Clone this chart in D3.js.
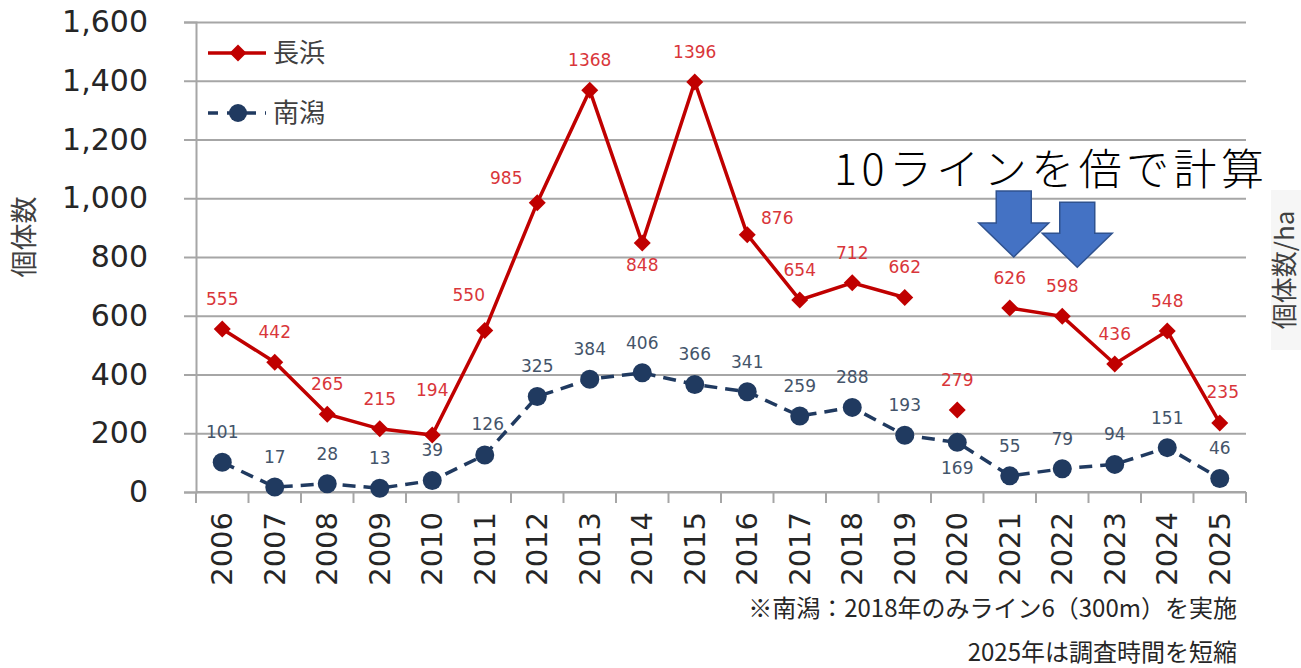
<!DOCTYPE html>
<html>
<head>
<meta charset="utf-8">
<script src="https://cdn.jsdelivr.net/npm/d3@7"></script>
<style>
  body { margin: 0; background: #fff; }
  svg { display: block; }
</style>
</head>
<body>
<svg id="chart" width="1301" height="668"></svg>
<script>
const years = ["2006","2007","2008","2009","2010","2011","2012","2013","2014","2015",
               "2016","2017","2018","2019","2020","2021","2022","2023","2024","2025"]
const nagahama = [555,442,265,215,194,550,985,1368,848,1396,876,654,712,662,279,626,598,436,548,235]
const minamigata = [101,17,28,13,39,126,325,384,406,366,341,259,288,193,169,55,79,94,151,46]
// 長浜 2020 は線でつながない
const nagahamaAlone = ["2020"]
const yTicks = [0,200,400,600,800,1000,1200,1400,1600]
const seriesNames = ["長浜","南潟"]
const noteLines = ["※南潟：2018年のみライン6（300m）を実施", "2025年は調査時間を短縮"]
const calloutText = "10ラインを倍で計算"
const calloutYears = ["2021","2022"]

const RED = "#c00000", NAVY = "#203a60", GRID = "#a6a6a6"
const NUMFONT = "'DejaVu Sans', Verdana, sans-serif"
const JPFONT = "'Noto Sans CJK JP', 'Noto Sans', sans-serif"

let svg = d3.select("#chart")
let plotL = 196, plotR = 1246, plotT = 22, plotB = 492

let x = d3.scaleBand().domain(years).range([plotL, plotR])
let y = d3.scaleLinear().domain([0, 1600]).range([plotB, plotT])
let cx = d => x(d) + x.bandwidth() / 2

// gridlines + left axis
let yAxis = svg.append("g")
    .attr("transform", `translate(${plotL},0)`)
    .call(d3.axisLeft(y).tickValues(yTicks).tickSize(12).tickPadding(36)
        .tickFormat(d3.format(",")))
yAxis.select(".domain").attr("stroke", GRID).attr("stroke-width", 2)
yAxis.selectAll(".tick line").attr("stroke", GRID).attr("stroke-width", 2)
yAxis.selectAll(".tick").append("line")
    .attr("x1", 0).attr("x2", plotR - plotL)
    .attr("stroke", GRID).attr("stroke-width", 2)
yAxis.selectAll(".tick text")
    .attr("font-family", NUMFONT).attr("font-size", 30).attr("fill", "#262626")

// bottom axis, ticks between categories
let xAxis = svg.append("g").attr("transform", `translate(0,${plotB})`)
xAxis.append("line").attr("x1", plotL).attr("x2", plotR)
    .attr("stroke", GRID).attr("stroke-width", 2)
xAxis.selectAll("line.tk")
    .data(years.map(d => x(d)).concat([plotR]))
    .enter().append("line").attr("class", "tk")
    .attr("x1", d => d).attr("x2", d => d).attr("y1", 0).attr("y2", 11)
    .attr("stroke", GRID).attr("stroke-width", 2)
xAxis.selectAll("text")
    .data(years)
    .enter().append("text")
    .attr("transform", d => `translate(${cx(d)},20) rotate(-90)`)
    .attr("text-anchor", "end").attr("dy", "0.35em")
    .attr("font-family", NUMFONT).attr("font-size", 29).attr("fill", "#262626")
    .text(d => d)

// axis titles
svg.append("text")
    .attr("transform", "translate(25,237) rotate(-90)")
    .attr("text-anchor", "middle").attr("dy", "0.35em")
    .attr("font-family", JPFONT).attr("font-size", 27).attr("fill", "#404040")
    .text("個体数")
svg.append("rect").attr("x", 1271).attr("y", 190).attr("width", 30).attr("height", 160)
    .attr("fill", "#f6f6f6")
svg.append("text")
    .attr("transform", "translate(1285,270) rotate(-90)")
    .attr("text-anchor", "middle").attr("dy", "0.35em")
    .attr("font-family", JPFONT).attr("font-size", 26).attr("fill", "#404040")
    .text("個体数/ha")

// data
let redData = years.map((yr, i) => ({ year: yr, value: nagahama[i] }))
let navyData = years.map((yr, i) => ({ year: yr, value: minamigata[i] }))

let line = d3.line().x(d => cx(d.year)).y(d => y(d.value))

svg.append("path")
    .datum(navyData)
    .attr("d", line)
    .attr("fill", "none").attr("stroke", NAVY).attr("stroke-width", 3.5)
    .attr("stroke-dasharray", "13,8")

svg.append("path")
    .datum(redData)
    .attr("d", line.defined(d => !nagahamaAlone.includes(d.year)))
    .attr("fill", "none").attr("stroke", RED).attr("stroke-width", 3.5)

let diamond = (px, py, r) => `M${px},${py - r}L${px + r},${py}L${px},${py + r}L${px - r},${py}Z`

svg.append("g").selectAll("circle")
    .data(navyData)
    .enter().append("circle")
    .attr("cx", d => cx(d.year)).attr("cy", d => y(d.value)).attr("r", 9.5)
    .attr("fill", NAVY)

svg.append("g").selectAll("path")
    .data(redData)
    .enter().append("path")
    .attr("d", d => diamond(cx(d.year), y(d.value), 8.5))
    .attr("fill", RED)

// label offsets (dx, dy) — default above
let redOffset = { "2010": [0, -45], "2011": [-16, -35], "2012": [-31, -25],
                  "2014": [0, 22], "2016": [30, -17], "2025": [3, -31] }
let navyOffset = { "2020": [0, 26], "2011": [3, -31] }

svg.append("g").selectAll("text")
    .data(navyData)
    .enter().append("text")
    .attr("x", d => cx(d.year) + (navyOffset[d.year] || [0, -30])[0])
    .attr("y", d => y(d.value) + (navyOffset[d.year] || [0, -30])[1])
    .attr("text-anchor", "middle").attr("dy", "0.35em")
    .attr("font-family", NUMFONT).attr("font-size", 17).attr("fill", "#44546a")
    .text(d => d.value)

svg.append("g").selectAll("text")
    .data(redData)
    .enter().append("text")
    .attr("x", d => cx(d.year) + (redOffset[d.year] || [0, -30])[0])
    .attr("y", d => y(d.value) + (redOffset[d.year] || [0, -30])[1])
    .attr("text-anchor", "middle").attr("dy", "0.35em")
    .attr("font-family", NUMFONT).attr("font-size", 17).attr("fill", "#d9363a")
    .text(d => d.value)

// legend
let legend = svg.append("g")
legend.append("line").attr("x1", 208).attr("x2", 266).attr("y1", 53).attr("y2", 53)
    .attr("stroke", RED).attr("stroke-width", 3.5)
legend.append("path").attr("d", diamond(238, 53, 8.5)).attr("fill", RED)
legend.append("line").attr("x1", 208).attr("x2", 266).attr("y1", 113).attr("y2", 113)
    .attr("stroke", NAVY).attr("stroke-width", 3.5).attr("stroke-dasharray", "10,9")
legend.append("circle").attr("cx", 238).attr("cy", 113).attr("r", 9).attr("fill", NAVY)
legend.selectAll("text")
    .data(seriesNames)
    .enter().append("text")
    .attr("x", 273).attr("y", (d, i) => 53 + i * 60).attr("dy", "0.35em")
    .attr("font-family", JPFONT).attr("font-size", 26).attr("fill", "#404040")
    .text(d => d)

// callout
svg.append("text")
    .attr("x", 834).attr("y", 185)
    .attr("font-family", JPFONT).attr("font-size", 43).attr("font-weight", 300)
    .attr("textLength", 430).attr("lengthAdjust", "spacing")
    .attr("fill", "#000")
    .text(calloutText)

let arrow = (tx, ty, len) => {
    let sw = 17.5, hw = 35, hl = 34
    return `M${tx - sw},${ty - len}L${tx + sw},${ty - len}L${tx + sw},${ty - hl}` +
        `L${tx + hw},${ty - hl}L${tx},${ty}L${tx - hw},${ty - hl}L${tx - sw},${ty - hl}Z`
}
svg.append("g").selectAll("path")
    .data(calloutYears)
    .enter().append("path")
    .attr("d", (d, i) => i == 0
        ? arrow(cx(d) + 4, y(800), 66)
        : arrow(cx(d) + 15, y(765), 65))
    .attr("fill", "#4472c4").attr("stroke", "#2f528f").attr("stroke-width", 1.5)

// notes
svg.append("g").selectAll("text")
    .data(noteLines)
    .enter().append("text")
    .attr("x", 1237).attr("y", (d, i) => 609 + i * 44).attr("dy", "0.35em")
    .attr("text-anchor", "end")
    .attr("font-family", JPFONT).attr("font-size", 24).attr("fill", "#262626")
    .text(d => d)
</script>
</body>
</html>
